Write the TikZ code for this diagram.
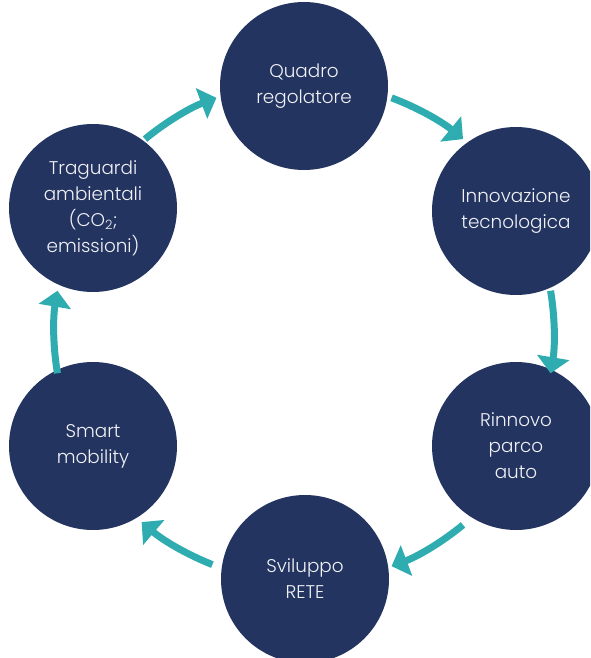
\documentclass[tikz,border=0pt]{standalone}
\usepackage{fontspec}
\setmainfont{Poppins Light}
\usetikzlibrary{arrows.meta}
\definecolor{navy}{RGB}{35,52,96}
\definecolor{teal}{RGB}{46,172,176}
\definecolor{paper}{RGB}{242,242,246}
\begin{document}
\begin{tikzpicture}[x=1pt,y=-1pt,
  stage/.style={circle,fill=navy,minimum size=168pt,inner sep=0pt,
    text=paper,align=center,font=\fontsize{18.4}{26}\selectfont},
  flow/.style={draw=teal,line width=7pt,
    -{Triangle[width=32pt,length=16pt]}}]
\useasboundingbox (0,0) rectangle (590,658);
\clip (0,0) rectangle (590,658);
% centre of the ring the stages sit on
\coordinate (hub) at (304,332);
% the six stages around the ring
\node[stage] (quadro)  at (304,86)  {Quadro\\regolatore};
\node[stage] (innov)   at (516,211) {Innovazione\\tecnologica};
\node[stage] (rinnovo) at (516,446) {Rinnovo\\parco\\auto};
\node[stage] (rete)    at (305,579) {Sviluppo\\RETE};
\node[stage] (smart)   at (93,446)  {Smart\\mobility};
\node[stage] (trag)    at (93,208)  {Traguardi\\ambientali\\(CO\textsubscript{2};\\emissioni)};
% clockwise flow arcs between neighbours (y axis points down)
\draw[flow] ([shift={(-129.5:250)}]hub) arc[start angle=-129.5, end angle=-110.5, radius=250];
\draw[flow] ([shift={(-69.5:250)}]hub)  arc[start angle=-69.5,  end angle=-50.5,  radius=250];
\draw[flow] ([shift={(-9.5:250)}]hub)   arc[start angle=-9.5,   end angle=9.5,    radius=250];
\draw[flow] ([shift={(50.5:250)}]hub)   arc[start angle=50.5,   end angle=69.5,   radius=250];
\draw[flow] ([shift={(111.5:250)}]hub)  arc[start angle=111.5,  end angle=130.5,  radius=250];
\draw[flow] ([shift={(170.5:250)}]hub)  arc[start angle=170.5,  end angle=189.5,  radius=250];
\end{tikzpicture}
\end{document}
